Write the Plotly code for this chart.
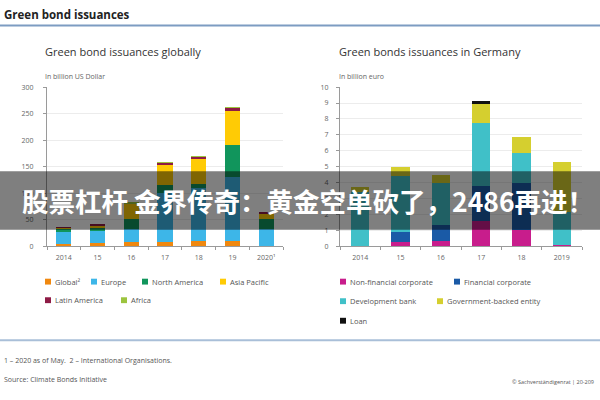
import plotly.graph_objects as go

# ---------------- data ----------------
years_global = ["2014", "15", "16", "17", "18", "19", "2020¹"]
global_orgs = [5, 6, 7, 7, 9, 9, 1]
europe = [21, 22, 25, 94, 101, 122, 32]
north_america = [7, 7, 20, 14, 8, 59, 18]
asia_pacific = [2, 4, 28, 38, 46, 65, 9]
latin_america = [0.5, 1, 1, 5, 5, 6, 4]
africa = [0, 0, 0.5, 0.3, 0.3, 0.5, 0]

years_de = ["2014", "15", "16", "17", "18", "2019"]
non_financial = [0, 0.25, 0.3, 1.6, 1.0, 0.07]
financial = [0, 0.65, 1.0, 2.2, 3.0, 0]
development_bank = [3.4, 3.5, 2.65, 3.95, 1.85, 2.1]
government_backed = [0.35, 0.55, 0.5, 1.2, 1.0, 3.1]
loan = [0, 0, 0, 0.15, 0, 0]

global_names = ["Global²", "Europe", "North America", "Asia Pacific", "Latin America", "Africa"]
global_values = [global_orgs, europe, north_america, asia_pacific, latin_america, africa]
global_colors = ["#f0880f", "#3db6e8", "#11955c", "#ffcb05", "#8e1b45", "#9cc43e"]

de_names = ["Non-financial corporate", "Financial corporate", "Development bank",
            "Government-backed entity", "Loan"]
de_values = [non_financial, financial, development_bank, government_backed, loan]
de_colors = ["#c81d8c", "#1a5aa6", "#40c0c8", "#d5cf2f", "#111111"]

banner_text = "股票杠杆 金界传奇：黄金空单砍了，2486再进！"

W, H = 600, 400
FONT = "Open Sans"
def px(x):
    return x / W
def py(y):
    return 1 - y / H

fig = go.Figure()
for name, vals, col in zip(global_names, global_values, global_colors):
    fig.add_trace(go.Bar(x=years_global, y=vals, name=name, marker_color=col,
                         marker_line_width=0, xaxis="x", yaxis="y", showlegend=False))
for name, vals, col in zip(de_names, de_values, de_colors):
    fig.add_trace(go.Bar(x=years_de, y=vals, name=name, marker_color=col,
                         marker_line_width=0, xaxis="x2", yaxis="y2", showlegend=False))

axis_common = dict(tickfont=dict(size=7, color="#666", family=FONT), linecolor="#9a9a9a",
                   ticks="outside", ticklen=3, tickcolor="#9a9a9a", showline=True)

fig.update_layout(
    width=W, height=H, margin=dict(l=0, r=0, t=0, b=0),
    paper_bgcolor="white", plot_bgcolor="white", barmode="stack",
    font=dict(family=FONT, color="#333"),
    xaxis=dict(domain=[px(47), px(283)], type="category", tickson="boundaries",
               showgrid=False, anchor="y", ticklabelstandoff=4, **axis_common),
    yaxis=dict(domain=[py(246.7), py(84)], range=[0, 300], dtick=50, showgrid=True,
               gridcolor="#ececec", gridwidth=1, zeroline=False, anchor="x",
               ticklabelstandoff=8, **axis_common),
    xaxis2=dict(domain=[px(340), px(582)], type="category", tickson="boundaries",
                showgrid=False, anchor="y2", ticklabelstandoff=4, **axis_common),
    yaxis2=dict(domain=[py(246.7), py(84)], range=[0, 10], dtick=1, showgrid=True,
                gridcolor="#ececec", gridwidth=1, zeroline=False, anchor="x2",
                ticklabelstandoff=6, **axis_common),
    bargap=0.55,
)

shapes = []
annotations = []

def text(x, y, s, size, color="#444", xanchor="left", family=FONT):
    annotations.append(dict(x=px(x), y=py(y), xref="paper", yref="paper", text=s,
                            showarrow=False, xanchor=xanchor, yanchor="middle",
                            font=dict(size=size, color=color, family=family)))

# titles
text(2, 10, "<b>Green bond issuances</b>", 11.5, "#222")
shapes.append(dict(type="line", xref="paper", yref="paper", x0=0, x1=1, y0=py(21), y1=py(21),
                   line=dict(color="#7d9cc2", width=2)))
text(43, 48, "Green bond issuances globally", 11, "#333")
text(43, 73, "In billion US Dollar", 7, "#666")
text(337, 48, "Green bonds issuances in Germany", 11, "#333")
text(337, 73, "In billion euro", 7, "#666")

# legends
def legend_item(x, y, color, label):
    shapes.append(dict(type="rect", xref="paper", yref="paper", x0=px(x - 3), x1=px(x + 3),
                       y0=py(y + 3), y1=py(y - 3), fillcolor=color, line=dict(width=0)))
    text(x + 5, y, label, 7.5, "#555")

glob_pos = [(48, 283), (94, 283), (145, 283), (223, 283), (48, 302), (124, 302)]
for (x, y), c, n in zip(glob_pos, global_colors, global_names):
    legend_item(x, y, c, n)
de_pos = [(343, 283), (457, 283), (343, 303), (440, 303), (343, 323)]
for (x, y), c, n in zip(de_pos, de_colors, de_names):
    legend_item(x, y, c, n)

# footer
shapes.append(dict(type="line", xref="paper", yref="paper", x0=0, x1=1, y0=py(343), y1=py(343),
                   line=dict(color="#a9bfd8", width=2)))
text(2, 364, "1 – 2020 as of May.  2 – International Organisations.", 7, "#555")
text(2, 383, "Source: Climate Bonds Initiative", 7, "#555")
text(596, 386, "© Sachverständigenrat | 20-209", 5.5, "#555", xanchor="right")

# overlay banner
shapes.append(dict(type="rect", xref="paper", yref="paper", x0=0, x1=1, y0=py(230), y1=py(170),
                   fillcolor="rgba(0,0,0,0.5)", line=dict(width=0), layer="above"))
annotations.append(dict(x=px(308), y=py(200), xref="paper", yref="paper",
                        text="<b>" + banner_text + "</b>", showarrow=False,
                        xanchor="center", yanchor="middle",
                        font=dict(size=26.5, color="white", family="Noto Sans CJK SC")))

fig.update_layout(shapes=shapes, annotations=annotations)
fig.write_html("out.html", config={"displayModeBar": False},
               post_script="document.body.style.margin='0px';document.body.style.overflow='hidden';")
